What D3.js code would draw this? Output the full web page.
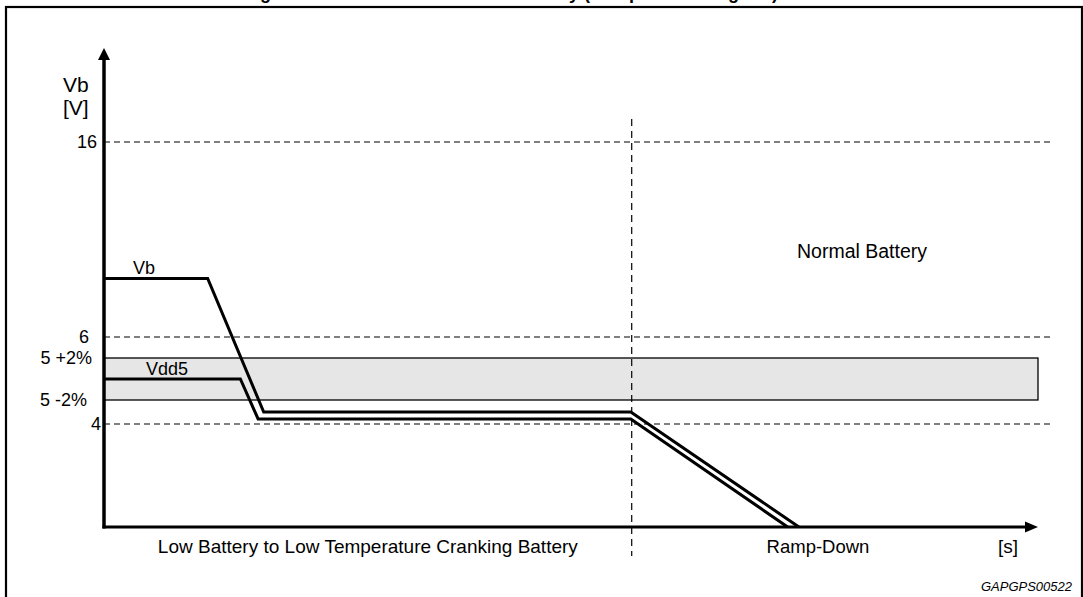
<!DOCTYPE html>
<html>
<head>
<meta charset="utf-8">
<script src="https://cdn.jsdelivr.net/npm/d3@7"></script>
<style>
  body { margin: 0; background: #fff; }
  text { font-family: "Liberation Sans", Arial, Helvetica, sans-serif; fill: #000; }
</style>
</head>
<body>
<div id="chart"></div>
<script>
// time is in arbitrary units (0..100), voltage in V
var phaseNames = ["Low Battery to Low Temperature Cranking Battery", "Ramp-Down"];
var phaseEnd = 56.5;

var tickValues = [16, 6, 5.1, 4.9, 4];
var tickLabels = ["16", "6", "5 +2%", "5 -2%", "4"];
var gridValues = [16, 6, 4];
var bandLow = 4.9, bandHigh = 5.1;

var vbTime = [0, 11.1, 17.1, 56.4, 74.4];
var vbVolt = [9, 9, 4.45, 4.45, 0];

var vddTime = [0, 14.6, 16.5, 56.4, 73.2];
var vddVolt = [5, 5, 4.19, 4.19, 0];

var W = 1083, H = 597;

var svg = d3.select('#chart')
            .append('svg')
            .attr('width', W)
            .attr('height', H);

// title sits mostly above the page, only descenders show
svg.append('text')
    .attr('x', 244)
    .attr('y', -1.5)
    .style('font-size', '18px')
    .style('font-weight', 'bold')
    .text('Figure 9. Vdd5 Behavior at Low Battery (Ramp-Down Diagram)');

// frame
svg.append('rect')
    .attr('x', 6).attr('y', 7)
    .attr('width', 1076).attr('height', 600)
    .attr('fill', 'none')
    .attr('stroke', '#000')
    .attr('stroke-width', 2.2);

// schematic (non linear) voltage axis
var y = d3.scaleLinear()
          .domain([0, 4, 4.9, 5.1, 6, 16])
          .range([527, 424, 400, 358, 337, 142]);

var x = d3.scaleLinear()
          .domain([0, 100])
          .range([104, 1038]);

var x0 = x(0), x1 = x(100), y0 = y(0);

// tolerance band
svg.append('rect')
    .attr('x', x0)
    .attr('y', y(bandHigh))
    .attr('width', x1 - x0)
    .attr('height', y(bandLow) - y(bandHigh))
    .attr('fill', '#e6e6e6')
    .attr('stroke', '#000')
    .attr('stroke-width', 1.3);

// dashed levels
svg.selectAll('.grid')
    .data(gridValues)
    .enter()
    .append('line')
    .attr('class', 'grid')
    .attr('x1', x0)
    .attr('x2', x1 + 12)
    .attr('y1', d => y(d))
    .attr('y2', d => y(d))
    .attr('stroke', '#000')
    .attr('stroke-width', 1.2)
    .attr('stroke-dasharray', '6,4');

// phase boundary
svg.append('line')
    .attr('x1', x(phaseEnd)).attr('x2', x(phaseEnd))
    .attr('y1', y(16) - 23).attr('y2', y0 + 29)
    .attr('stroke', '#000')
    .attr('stroke-width', 1.2)
    .attr('stroke-dasharray', '7,5');

// curves
var line = d3.line()
             .x(d => x(d[0]))
             .y(d => y(d[1]));

[[vbTime, vbVolt], [vddTime, vddVolt]].forEach(function (s) {
    svg.append('path')
        .datum(d3.zip(s[0], s[1]))
        .attr('d', line)
        .attr('fill', 'none')
        .attr('stroke', '#000')
        .attr('stroke-width', 3)
        .attr('stroke-linejoin', 'miter');
});

// axes with arrows
svg.append('line')
    .attr('x1', x0).attr('x2', x0)
    .attr('y1', y0 + 1.5).attr('y2', 58)
    .attr('stroke', '#000').attr('stroke-width', 3.5);
svg.append('path')
    .attr('d', 'M' + (x0 - 6) + ',60L' + x0 + ',48L' + (x0 + 6) + ',60Z')
    .attr('fill', '#000');

svg.append('line')
    .attr('x1', x0 - 1.5).attr('x2', x1 - 10)
    .attr('y1', y0).attr('y2', y0)
    .attr('stroke', '#000').attr('stroke-width', 3);
svg.append('path')
    .attr('d', 'M' + (x1 - 13) + ',' + (y0 - 5.5) + 'L' + x1 + ',' + y0 + 'L' + (x1 - 13) + ',' + (y0 + 5.5) + 'Z')
    .attr('fill', '#000');

// tick labels
var labelRightEdge = [97, 89, 92, 87, 101];
var yAxis = svg.append('g')
    .attr('transform', 'translate(' + x0 + ',0)')
    .call(d3.axisLeft(y)
            .tickValues(tickValues)
            .tickSize(0)
            .tickFormat((d, i) => tickLabels[i]));
yAxis.select('.domain').remove();
yAxis.selectAll('text')
    .attr('x', (d, i) => labelRightEdge[i] - x0)
    .style('font-size', '18px')
    .style('font-family', '"Liberation Sans", Arial, sans-serif')
    .attr('fill', '#000');

// axis titles
svg.append('text').attr('x', 63).attr('y', 92).style('font-size', '21px').text('Vb');
svg.append('text').attr('x', 63).attr('y', 115).style('font-size', '21px').text('[V]');
svg.append('text').attr('x', 998).attr('y', 553).style('font-size', '19px').text('[s]');

// series labels
svg.append('text').attr('x', 133).attr('y', 274).style('font-size', '18px').text('Vb');
svg.append('text').attr('x', 146).attr('y', 375).style('font-size', '18px').text('Vdd5');

// region labels
svg.append('text').attr('x', 797).attr('y', 258).style('font-size', '19.5px').text('Normal Battery');
svg.append('text')
    .attr('x', (x0 + x(phaseEnd)) / 2).attr('y', 553)
    .attr('text-anchor', 'middle')
    .style('font-size', '19px')
    .text(phaseNames[0]);
svg.append('text')
    .attr('x', 818).attr('y', 553)
    .attr('text-anchor', 'middle')
    .style('font-size', '18.5px')
    .text(phaseNames[1]);

svg.append('text')
    .attr('x', 1072).attr('y', 591)
    .attr('text-anchor', 'end')
    .style('font-size', '13px')
    .style('font-style', 'italic')
    .text('GAPGPS00522');
</script>
</body>
</html>
